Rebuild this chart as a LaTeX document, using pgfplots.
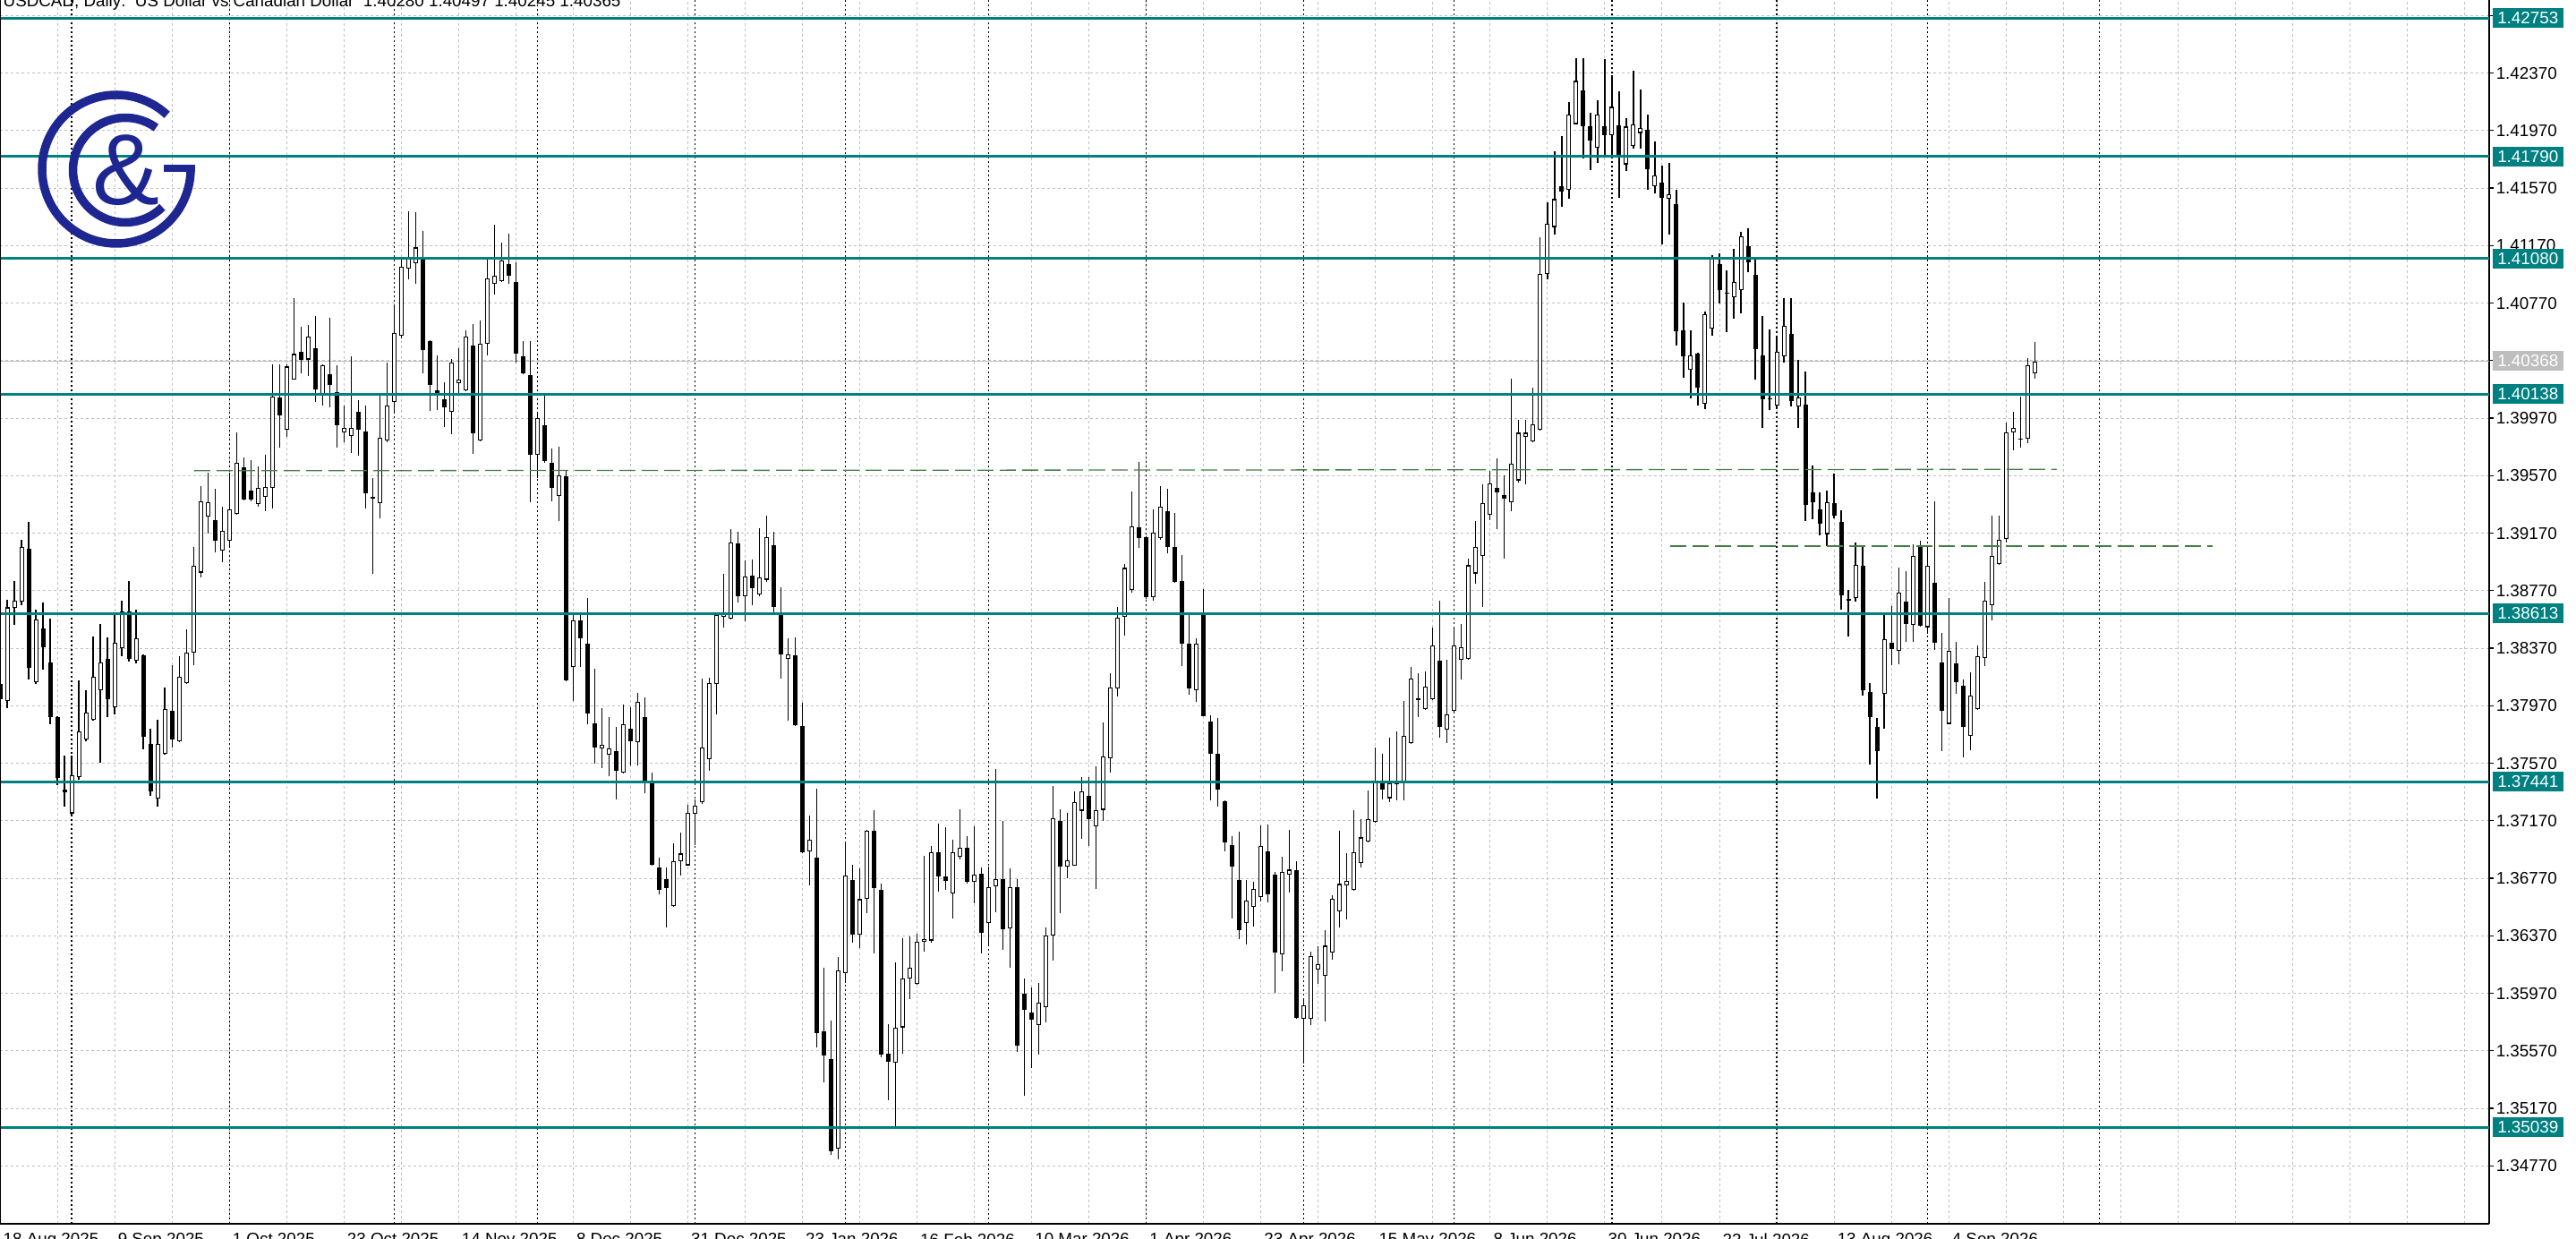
\documentclass[border=0pt]{standalone}
\usepackage{pgfplots}
\pgfplotsset{compat=1.18}
\usepackage{pgfplotstable}
\usepackage{fontspec}
\setmainfont{Liberation Sans}

\definecolor{lvl}{RGB}{0,128,128}
\definecolor{gridc}{RGB}{192,192,192}
\definecolor{trend}{RGB}{70,125,70}
\definecolor{logoc}{RGB}{30,38,145}
\definecolor{bidc}{RGB}{190,190,190}
\newcommand\mtf{\fontsize{5.35pt}{6pt}\selectfont}

% USDCAD daily candles, bar index / open / high / low / close
\pgfplotstableread{
i o h l c
0 1.38120 1.38170 1.37992 1.38018
1 1.38005 1.38705 1.37954 1.38654
2 1.38649 1.38840 1.38532 1.38698
3 1.38692 1.39125 1.38667 1.39074
4 1.39062 1.39247 1.38150 1.38234
5 1.38132 1.38636 1.38120 1.38570
6 1.38507 1.38685 1.38221 1.38374
7 1.38272 1.38578 1.37840 1.37890
8 1.37890 1.37895 1.37419 1.37470
9 1.37389 1.37623 1.37267 1.37369
10 1.37221 1.37623 1.37210 1.37488
11 1.37475 1.38145 1.37458 1.37794
12 1.37733 1.38076 1.37725 1.37921
13 1.37870 1.38450 1.37865 1.38170
14 1.38076 1.38540 1.37572 1.38272
15 1.38293 1.38445 1.37890 1.38013
16 1.37959 1.38616 1.37911 1.38407
17 1.38369 1.38700 1.38316 1.38624
18 1.38624 1.38840 1.38277 1.38298
19 1.38285 1.38636 1.38267 1.38438
20 1.38318 1.38325 1.37669 1.37755
21 1.37707 1.37809 1.37343 1.37374
22 1.37323 1.37870 1.37267 1.37707
23 1.37636 1.38094 1.37630 1.37949
24 1.37936 1.38252 1.37682 1.37733
25 1.37720 1.38316 1.37715 1.38170
26 1.38127 1.38501 1.38120 1.38341
27 1.38341 1.39074 1.38254 1.38942
28 1.38896 1.39500 1.38863 1.39393
29 1.39286 1.39589 1.39169 1.39385
30 1.39258 1.39477 1.39036 1.39118
31 1.39049 1.39354 1.38967 1.39189
32 1.39118 1.39589 1.39067 1.39337
33 1.39303 1.39869 1.39295 1.39660
34 1.39629 1.39698 1.39400 1.39405
35 1.39464 1.39680 1.39393 1.39405
36 1.39372 1.39634 1.39354 1.39487
37 1.39423 1.39716 1.39324 1.39489
38 1.39482 1.40347 1.39342 1.40118
39 1.40113 1.40347 1.39762 1.39986
40 1.39889 1.40347 1.39838 1.40329
41 1.40240 1.40806 1.40235 1.40416
42 1.40429 1.40607 1.40284 1.40373
43 1.40378 1.40620 1.40266 1.40538
44 1.40454 1.40678 1.40080 1.40169
45 1.40131 1.40345 1.40060 1.40340
46 1.40276 1.40666 1.40042 1.40202
47 1.40151 1.40335 1.39767 1.39922
48 1.39869 1.40055 1.39800 1.39902
49 1.39843 1.40398 1.39729 1.39902
50 1.40016 1.40094 1.39706 1.39891
51 1.39875 1.40060 1.39341 1.39446
52 1.39420 1.39554 1.38886 1.39412
53 1.39379 1.40128 1.39274 1.39834
54 1.39817 1.40357 1.39800 1.40060
55 1.40084 1.40752 1.40000 1.40560
56 1.40543 1.41083 1.40526 1.41022
57 1.41012 1.41410 1.40938 1.41083
58 1.41046 1.41404 1.40904 1.41157
59 1.41083 1.41269 1.40280 1.40442
60 1.40506 1.40510 1.40020 1.40202
61 1.40162 1.40408 1.40027 1.40145
62 1.40104 1.40219 1.39908 1.40043
63 1.40016 1.40381 1.39858 1.40357
64 1.40212 1.40458 1.40145 1.40236
65 1.40162 1.40583 1.40155 1.40540
66 1.40475 1.40624 1.39723 1.39865
67 1.39817 1.40651 1.39810 1.40489
68 1.40489 1.41080 1.40404 1.40944
69 1.40904 1.41316 1.40830 1.40961
70 1.40921 1.41191 1.40915 1.41066
71 1.41039 1.41252 1.40904 1.40961
72 1.40914 1.41056 1.40357 1.40421
73 1.40398 1.40506 1.40275 1.40280
74 1.40270 1.40506 1.39385 1.39716
75 1.39716 1.40010 1.39554 1.39969
76 1.39918 1.40138 1.39662 1.39672
77 1.39662 1.39757 1.39392 1.39487
78 1.39429 1.39773 1.39257 1.39571
79 1.39564 1.39611 1.38140 1.38147
80 1.38238 1.38609 1.38002 1.38565
81 1.38565 1.38609 1.38238 1.38440
82 1.38400 1.38717 1.37840 1.37917
83 1.37850 1.38228 1.37570 1.37681
84 1.37674 1.37951 1.37539 1.37698
85 1.37630 1.37890 1.37478 1.37674
86 1.37654 1.37823 1.37316 1.37519
87 1.37505 1.37978 1.37500 1.37840
88 1.37810 1.37961 1.37553 1.37723
89 1.37715 1.38059 1.37553 1.37995
90 1.37890 1.38029 1.37360 1.37445
91 1.37434 1.37502 1.36855 1.36861
92 1.36847 1.36911 1.36658 1.36692
93 1.36763 1.36844 1.36425 1.36702
94 1.36577 1.37013 1.36570 1.36888
95 1.36890 1.37090 1.36791 1.36942
96 1.36860 1.37283 1.36855 1.37223
97 1.37220 1.37320 1.37002 1.37274
98 1.37298 1.38156 1.37290 1.37682
99 1.37600 1.38166 1.37516 1.38126
100 1.38120 1.38610 1.37909 1.38604
101 1.38589 1.38885 1.38513 1.38613
102 1.38574 1.39199 1.38570 1.39108
103 1.39096 1.39178 1.38685 1.38734
104 1.38731 1.38982 1.38559 1.38870
105 1.38876 1.38988 1.38670 1.38785
106 1.38746 1.39202 1.38731 1.38861
107 1.38846 1.39290 1.38830 1.39142
108 1.39087 1.39178 1.38604 1.38655
109 1.38604 1.38791 1.38156 1.38326
110 1.38296 1.38438 1.37863 1.38326
111 1.38323 1.38447 1.37830 1.37833
112 1.37827 1.37993 1.36942 1.36951
113 1.36957 1.37205 1.36721 1.37041
114 1.36911 1.37395 1.35591 1.35694
115 1.35703 1.36147 1.35349 1.35536
116 1.35512 1.35778 1.34847 1.34872
117 1.34887 1.36225 1.34817 1.36132
118 1.36111 1.37023 1.36041 1.36790
119 1.36760 1.36866 1.36322 1.36377
120 1.36377 1.36836 1.36286 1.36624
121 1.36624 1.37108 1.36528 1.37099
122 1.37099 1.37244 1.36247 1.36700
123 1.36691 1.36730 1.35527 1.35546
124 1.35552 1.35757 1.35228 1.35491
125 1.35485 1.36186 1.35038 1.35733
126 1.35733 1.36352 1.35552 1.36071
127 1.36074 1.36367 1.35929 1.36150
128 1.36035 1.36383 1.36030 1.36331
129 1.36331 1.36927 1.36262 1.36346
130 1.36337 1.36993 1.36322 1.36951
131 1.36951 1.37153 1.36679 1.36785
132 1.36785 1.37123 1.36691 1.36751
133 1.36664 1.37038 1.36488 1.36951
134 1.36921 1.37250 1.36902 1.36981
135 1.36981 1.37062 1.36730 1.36745
136 1.36745 1.37129 1.36594 1.36797
137 1.36800 1.36842 1.36247 1.36389
138 1.36458 1.36851 1.36307 1.36706
139 1.36715 1.37531 1.36534 1.36766
140 1.36766 1.37168 1.36271 1.36413
141 1.36422 1.36836 1.36150 1.36709
142 1.36709 1.36766 1.35560 1.35603
143 1.35969 1.36071 1.35255 1.35854
144 1.35839 1.36011 1.35450 1.35787
145 1.35751 1.36043 1.35542 1.35905
146 1.35871 1.36430 1.35765 1.36372
147 1.36372 1.37410 1.36200 1.37189
148 1.37166 1.37252 1.36530 1.36851
149 1.36851 1.37226 1.36773 1.36894
150 1.36859 1.37375 1.36855 1.37298
151 1.37240 1.37475 1.37046 1.37375
152 1.37341 1.37475 1.36997 1.37180
153 1.37132 1.37547 1.36696 1.37246
154 1.37246 1.37854 1.37169 1.37619
155 1.37604 1.38197 1.37504 1.38097
156 1.38091 1.38659 1.38034 1.38584
157 1.38587 1.38957 1.38458 1.38928
158 1.38773 1.39458 1.38756 1.39217
159 1.39209 1.39667 1.39065 1.39137
160 1.39143 1.39150 1.38713 1.38727
161 1.38727 1.39338 1.38699 1.39174
162 1.39137 1.39495 1.39123 1.39352
163 1.39323 1.39481 1.39031 1.39071
164 1.39074 1.39309 1.38825 1.38831
165 1.38836 1.39020 1.38243 1.38401
166 1.38401 1.38616 1.38048 1.38091
167 1.38077 1.38441 1.37999 1.38401
168 1.38598 1.38779 1.37895 1.37899
169 1.37862 1.37905 1.37309 1.37633
170 1.37633 1.37882 1.37269 1.37384
171 1.37303 1.37310 1.36954 1.37017
172 1.37003 1.37060 1.36493 1.36854
173 1.36759 1.37094 1.36349 1.36410
174 1.36458 1.36759 1.36309 1.36616
175 1.36573 1.36745 1.36435 1.36696
176 1.36639 1.37137 1.36610 1.36994
177 1.36954 1.37146 1.36602 1.36659
178 1.36794 1.36816 1.35971 1.36252
179 1.36238 1.36917 1.36123 1.36816
180 1.36796 1.37109 1.36673 1.36830
181 1.36825 1.36888 1.35795 1.35799
182 1.35791 1.35937 1.35484 1.35885
183 1.35794 1.36258 1.35751 1.36229
184 1.36137 1.36295 1.36037 1.36172
185 1.36092 1.36407 1.35777 1.36301
186 1.36252 1.36650 1.36201 1.36630
187 1.36539 1.37103 1.36430 1.36730
188 1.36722 1.36945 1.36481 1.36753
189 1.36688 1.37246 1.36685 1.36951
190 1.36874 1.37180 1.36845 1.37054
191 1.37023 1.37381 1.37017 1.37183
192 1.37161 1.37680 1.37155 1.37447
193 1.37431 1.37636 1.37320 1.37387
194 1.37327 1.37745 1.37300 1.37431
195 1.37424 1.37789 1.37312 1.37438
196 1.37431 1.38004 1.37312 1.37762
197 1.37710 1.38242 1.37705 1.38157
198 1.38010 1.38198 1.37891 1.38020
199 1.37947 1.38210 1.37940 1.38101
200 1.38017 1.38515 1.38010 1.38392
201 1.38283 1.38699 1.37745 1.37823
202 1.37806 1.38289 1.37710 1.37910
203 1.37932 1.38515 1.37925 1.38392
204 1.38289 1.38540 1.38152 1.38375
205 1.38293 1.38992 1.38288 1.38947
206 1.38890 1.39254 1.38818 1.39074
207 1.39009 1.39510 1.38658 1.39380
208 1.39298 1.39605 1.39263 1.39517
209 1.39486 1.39690 1.39196 1.39454
210 1.39435 1.39571 1.38992 1.39413
211 1.39384 1.40242 1.39322 1.39653
212 1.39537 1.39960 1.39520 1.39868
213 1.39840 1.39960 1.39510 1.39868
214 1.39806 1.40184 1.39800 1.39929
215 1.39891 1.41231 1.39885 1.40975
216 1.40975 1.41469 1.40934 1.41323
217 1.41299 1.41827 1.41248 1.41493
218 1.41582 1.41930 1.41442 1.41548
219 1.41555 1.42168 1.41497 1.42083
220 1.42015 1.42475 1.42010 1.42315
221 1.42246 1.42475 1.41776 1.41997
222 1.41997 1.42093 1.41698 1.41903
223 1.41851 1.42178 1.41742 1.42083
224 1.41997 1.42468 1.41793 1.41940
225 1.41940 1.42355 1.41793 1.42134
226 1.42008 1.42243 1.41503 1.41793
227 1.41735 1.42059 1.41691 1.41997
228 1.41861 1.42383 1.41844 1.42015
229 1.41953 1.42253 1.41844 1.41987
230 1.41974 1.42083 1.41555 1.41701
231 1.41582 1.41895 1.41531 1.41657
232 1.41606 1.41725 1.41180 1.41503
233 1.41497 1.41742 1.41248 1.41527
234 1.41459 1.41555 1.40474 1.40573
235 1.40583 1.40771 1.40253 1.40403
236 1.40304 1.40583 1.40106 1.40406
237 1.40420 1.40425 1.40055 1.40184
238 1.40072 1.40713 1.40031 1.40692
239 1.40593 1.41105 1.40542 1.41077
240 1.41039 1.41114 1.40766 1.40858
241 1.40845 1.40997 1.40566 1.40840
242 1.40811 1.41150 1.40664 1.40919
243 1.40858 1.41267 1.40700 1.41233
244 1.41164 1.41289 1.40983 1.41053
245 1.40964 1.41094 1.40239 1.40450
246 1.40405 1.40683 1.39905 1.40103
247 1.40108 1.40586 1.40025 1.40100
248 1.40058 1.40533 1.40033 1.40433
249 1.40400 1.40803 1.40358 1.40614
250 1.40558 1.40803 1.40053 1.40086
251 1.40053 1.40378 1.39905 1.40114
252 1.40066 1.40294 1.39255 1.39364
253 1.39455 1.39641 1.39266 1.39386
254 1.39336 1.39455 1.39155 1.39233
255 1.39164 1.39469 1.39080 1.39386
256 1.39380 1.39586 1.39275 1.39289
257 1.39247 1.39330 1.38641 1.38739
258 1.38700 1.38775 1.38450 1.38714
259 1.38719 1.39102 1.38691 1.38950
260 1.38941 1.39075 1.38039 1.38075
261 1.38066 1.38128 1.37561 1.37891
262 1.37822 1.37886 1.37322 1.37655
263 1.38053 1.38608 1.37808 1.38433
264 1.38408 1.38664 1.38255 1.38364
265 1.38353 1.38928 1.38261 1.38755
266 1.38691 1.38905 1.38414 1.38539
267 1.38534 1.39094 1.38414 1.39011
268 1.39072 1.39117 1.38520 1.38525
269 1.38516 1.39072 1.38469 1.38941
270 1.38825 1.39391 1.38358 1.38405
271 1.38269 1.38475 1.37655 1.37933
272 1.37844 1.38719 1.37840 1.38350
273 1.38266 1.38414 1.38053 1.38136
274 1.38108 1.38155 1.37608 1.37822
275 1.37761 1.38200 1.37663 1.38039
276 1.37947 1.38386 1.37940 1.38316
277 1.38302 1.38830 1.38247 1.38700
278 1.38669 1.39294 1.38566 1.39011
279 1.38955 1.39289 1.38950 1.39122
280 1.39128 1.39942 1.39108 1.39872
281 1.39872 1.40011 1.39747 1.39900
282 1.39830 1.40122 1.39766 1.39825
283 1.39825 1.40386 1.39797 1.40339
284 1.40280 1.40497 1.40245 1.40365
}\ohlc

\pgfplotsset{
  candle/.style={draw=none, mark=none, forget plot,
    error bars/.cd, y dir=plus, y explicit, error mark=none},
}

\begin{document}
\begin{tikzpicture}
\begin{axis}[
  at={(0,0)}, anchor=north west,
  scale only axis, width=27.81cm, height=13.67cm,
  xmin=0, xmax=347.45, ymin=1.34367, ymax=1.42878,
  axis x line*=bottom, axis y line*=right,
  axis line style={black, line width=0.015cm},
  clip=false,
  xtick={0,8,...,344},
  xticklabels={18 Aug 2025,,9 Sep 2025,,1 Oct 2025,,23 Oct 2025,,14 Nov 2025,,8 Dec 2025,,31 Dec 2025,,23 Jan 2026,,16 Feb 2026,,10 Mar 2026,,1 Apr 2026,,23 Apr 2026,,15 May 2026,,8 Jun 2026,,30 Jun 2026,,22 Jul 2026,,13 Aug 2026,,4 Sep 2026},
  ytick={1.34770,1.35170,1.35570,1.35970,1.36370,1.36770,1.37170,1.37570,1.37970,1.38370,1.38770,1.39170,1.39570,1.39970,1.40370,1.40770,1.41170,1.41570,1.41970,1.42370,1.42770},
  yticklabels={1.34770,1.35170,1.35570,1.35970,1.36370,1.36770,1.37170,1.37570,1.37970,1.38370,1.38770,1.39170,1.39570,1.39970,1.40370,1.40770,1.41170,1.41570,1.41970,1.42370,{}},
  grid=major,
  major grid style={gridc, line width=0.01cm, dash pattern=on 0.03cm off 0.03cm},
  tick align=outside, major tick length=0.05cm,
  xtick style={draw=none},
  ytick style={black, line width=0.012cm},
  xticklabel style={font=\mtf, anchor=north west, inner sep=0pt, xshift=0.03cm, yshift=-0.05cm},
  yticklabel style={font=\mtf, anchor=west, inner sep=0pt, xshift=0.02cm},
  extra x ticks={10,32,55,75,97,118,138,160,182,203,225,248,269,293},
  extra x tick labels={},
  extra x tick style={grid=major, major grid style={black, line width=0.012cm, dash pattern=on 0.025cm off 0.025cm}},
]
% current bid line
\addplot[bidc, line width=0.012cm] coordinates {(0,1.40368) (347.45,1.40368)};

% wicks
\addplot[candle, error bar style={draw=black, solid, line width=0.012cm}]
  table[x=i, y=l, y error plus expr={\thisrow{h}-\thisrow{l}}] {\ohlc};
% bodies
\addplot[candle, error bar style={draw=black, solid, line width=0.05cm}]
  table[x=i, y expr={min(\thisrow{o},\thisrow{c})}, y error plus expr={max(abs(\thisrow{c}-\thisrow{o}),0.00005)}] {\ohlc};
% hollow inside of up candles
\addplot[candle, error bar style={draw=white, solid, line width=0.03cm}]
  table[x=i, y expr={\thisrow{o}+0.00007}, y error plus expr={max(\thisrow{c}-\thisrow{o}-0.00014,0)}] {\ohlc};

% support / resistance levels
\addplot[lvl, line width=0.03cm] coordinates {(0,1.42753) (347.45,1.42753)};
\addplot[lvl, line width=0.03cm] coordinates {(0,1.41790) (347.45,1.41790)};
\addplot[lvl, line width=0.03cm] coordinates {(0,1.41080) (347.45,1.41080)};
\addplot[lvl, line width=0.03cm] coordinates {(0,1.40138) (347.45,1.40138)};
\addplot[lvl, line width=0.03cm] coordinates {(0,1.38613) (347.45,1.38613)};
\addplot[lvl, line width=0.03cm] coordinates {(0,1.37441) (347.45,1.37441)};
\addplot[lvl, line width=0.03cm] coordinates {(0,1.35039) (347.45,1.35039)};

% dashed trend lines
\addplot[trend, line width=0.013cm, dash pattern=on 0.18cm off 0.07cm] coordinates {(27.1,1.39604) (287.1,1.39614)};
\addplot[trend, line width=0.013cm, dash pattern=on 0.18cm off 0.07cm] coordinates {(233.1,1.39080) (308.9,1.39080)};

\draw[black, line width=0.015cm] (rel axis cs:0,0) -- (rel axis cs:0,1);

\coordinate (r1) at (axis cs:347.45,1.42753);
\coordinate (r2) at (axis cs:347.45,1.41790);
\coordinate (r3) at (axis cs:347.45,1.41080);
\coordinate (r4) at (axis cs:347.45,1.40138);
\coordinate (r5) at (axis cs:347.45,1.38613);
\coordinate (r6) at (axis cs:347.45,1.37441);
\coordinate (r7) at (axis cs:347.45,1.35039);
\coordinate (rb) at (axis cs:347.45,1.40368);
\end{axis}

\foreach \n/\t in {r1/1.42753,r2/1.41790,r3/1.41080,r4/1.40138,r5/1.38613,r6/1.37441,r7/1.35039}
  \node[fill=lvl, text=white, font=\mtf, minimum width=0.79cm, minimum height=0.22cm, inner sep=0pt, anchor=west] at ([xshift=0.03cm]\n) {\t};
\node[fill=bidc, text=white, font=\mtf, minimum width=0.79cm, minimum height=0.22cm, inner sep=0pt, anchor=west] at ([xshift=0.03cm]rb) {1.40368};

\node[anchor=base west, font=\mtf, inner sep=0pt] at (0.03,-0.08) {USDCAD, Daily:\ \ US Dollar vs Canadian Dollar\ \ 1.40280 1.40497 1.40245 1.40365};

% logo
\begin{scope}[draw=logoc, fill=logoc, line width=0.095cm]
  \draw (1.30,-1.89) ++(47:0.83) arc[start angle=47, end angle=360, radius=0.83];
  \fill (1.83,-1.84) rectangle (2.18,-1.925);
  \draw (1.40,-1.90) ++(54:0.585) arc[start angle=54, end angle=315, radius=0.585];
  \node[text=logoc, font=\fontsize{32pt}{32pt}\selectfont, inner sep=0pt] at (1.415,-1.90) {\&};
\end{scope}

\pgfresetboundingbox
\path[use as bounding box] (0,0) rectangle (28.78,-13.84);
\end{tikzpicture}
\end{document}
